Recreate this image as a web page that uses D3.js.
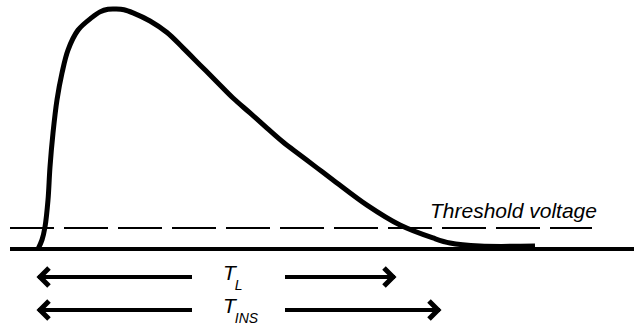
<!DOCTYPE html>
<html>
<head>
<meta charset="utf-8">
<script src="https://cdn.jsdelivr.net/npm/d3@7"></script>
<style>
  body { margin: 0; background: #fff; }
  text { font-family: "Liberation Sans", Arial, Helvetica, sans-serif; font-style: italic; fill: #000; }
</style>
</head>
<body>
<div id="chart"></div>
<script>
// pulse (time in arbitrary units, voltage normalised to peak)
var pulseTime = [0, 0.8, 1.4, 2.0, 2.4, 3.0, 3.8, 4.8, 6.0, 8.0, 10.8, 12.4, 14, 15.6, 17.2, 19, 22.4, 25.8, 29,
                 32.4, 35.8, 39, 42.4, 45.8, 49, 52.4, 55.8, 59, 65.8, 72.4, 79, 82.4, 88.4, 99.4];
var pulseVolt = [0, 0.038, 0.092, 0.204, 0.342, 0.483, 0.621, 0.733, 0.829, 0.912, 0.965, 0.988, 0.999, 1.0, 0.997, 0.984, 0.95, 0.902, 0.838,
                 0.767, 0.696, 0.629, 0.567, 0.504, 0.446, 0.392, 0.338, 0.288, 0.183, 0.1, 0.046, 0.025, 0.0125, 0.0125];
var threshold = 0.0875;
var thresholdLabel = "Threshold voltage";
// time spans: label, subscript, start, end
var spanLabels = ["T", "T"];
var spanSubs = ["L", "INS"];
var spanStart = [0, 0];
var spanEnd = [71.4, 80.4];
var axisStart = -5.6, thresholdEnd = 110.8, axisEnd = 119.2;

var width = 634, height = 331;
var svg = d3.select("#chart").append("svg")
    .attr("width", width)
    .attr("height", height);

var x = d3.scaleLinear().domain([0, 100]).range([38, 538]);
var y = d3.scaleLinear().domain([0, 1]).range([249, 9]);

// baseline
svg.append("line")
   .attr("x1", x(axisStart)).attr("x2", x(axisEnd))
   .attr("y1", y(0)).attr("y2", y(0))
   .style("stroke", "#000")
   .style("stroke-width", 4);

// threshold
svg.append("line")
   .attr("x1", x(axisStart)).attr("x2", x(thresholdEnd))
   .attr("y1", y(threshold)).attr("y2", y(threshold))
   .style("stroke", "#000")
   .style("stroke-width", 2)
   .style("stroke-dasharray", "44,10");

svg.append("text")
   .attr("x", x(78.4))
   .attr("y", y(threshold) - 10)
   .style("font-size", "21px")
   .text(thresholdLabel);

// pulse
var pulse = d3.line()
    .x(function(d, i){ return x(pulseTime[i]); })
    .y(function(d, i){ return y(pulseVolt[i]); })
    .curve(d3.curveCatmullRom.alpha(0.5));
svg.append("path")
   .datum(pulseTime)
   .attr("d", pulse)
   .style("fill", "none")
   .style("stroke", "#000")
   .style("stroke-width", 5)
   .style("stroke-linejoin", "round");

// span arrows
var rowY = [277, 310];
var gapL = 30.8, gapR = 49.4;
spanLabels.forEach(function(lab, i) {
  var g = svg.append("g");
  var yy = rowY[i];
  g.append("line")
   .attr("x1", x(spanStart[i])).attr("x2", x(gapL))
   .attr("y1", yy).attr("y2", yy)
   .style("stroke", "#000").style("stroke-width", 4);
  g.append("line")
   .attr("x1", x(gapR)).attr("x2", x(spanEnd[i]))
   .attr("y1", yy).attr("y2", yy)
   .style("stroke", "#000").style("stroke-width", 4);
  var x0 = x(spanStart[i]) + 2, x1 = x(spanEnd[i]) - 2;
  g.append("path")
   .attr("d", "M" + (x0 + 9) + "," + (yy - 9) + "L" + x0 + "," + yy + "L" + (x0 + 9) + "," + (yy + 9))
   .style("fill", "none").style("stroke", "#000").style("stroke-width", 5)
   .style("stroke-linejoin", "miter");
  g.append("path")
   .attr("d", "M" + (x1 - 9) + "," + (yy - 9) + "L" + x1 + "," + yy + "L" + (x1 - 9) + "," + (yy + 9))
   .style("fill", "none").style("stroke", "#000").style("stroke-width", 5)
   .style("stroke-linejoin", "miter");
  var t = g.append("text")
   .attr("x", x(37))
   .attr("y", yy + 3)
   .style("font-size", "21px");
  t.append("tspan").text(lab);
  t.append("tspan")
   .attr("dx", -1)
   .attr("dy", 10)
   .style("font-size", "14px")
   .text(spanSubs[i]);
});
</script>
</body>
</html>
